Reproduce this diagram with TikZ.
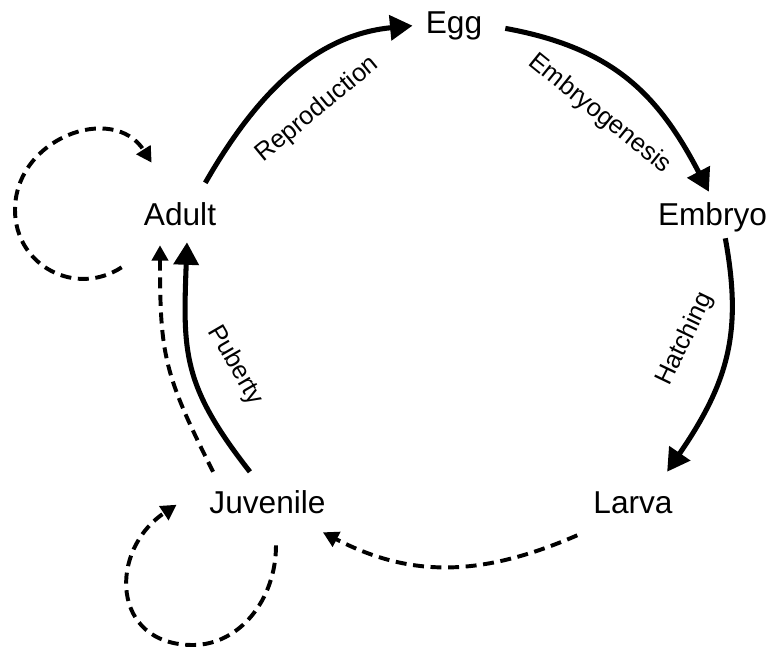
\documentclass[tikz,border=0pt]{standalone}
\usepackage{fontspec}
\setmainfont{Liberation Sans}
\usetikzlibrary{arrows.meta}
\tikzset{
    cycle diagram/.style = {x=0.025cm, y=0.025cm},
    stage/.style         = {font=\fontsize{22.5}{27}\selectfont, anchor=base,
                            inner sep=2pt, text height=16.5pt, text depth=4.7pt},
    phase/.style         = {font=\fontsize{18}{21}\selectfont, sloped,
                            inner sep=0pt, text height=12.9pt, text depth=3.8pt},
    develop/.style       = {line width=3.6pt,
                            -{Triangle[length=16pt, width=17.5pt]}},
    shortcut/.style      = {line width=2.8pt, dash pattern=on 7.8pt off 4.7pt,
                            -{Triangle[length=11pt, width=11.5pt]}}
}

\begin{document}
\begin{tikzpicture}[cycle diagram]
\useasboundingbox (0,0) rectangle (775,-654);

% ================= Life stages =================
\node[stage] (egg)      at (454,-33)   {Egg};
\node[stage] (embryo)   at (712.5,-225) {Embryo};
\node[stage] (larva)    at (633,-513)  {Larva};
\node[stage] (juvenile) at (267.5,-513) {Juvenile};
\node[stage] (adult)    at (180,-225)  {Adult};

% ================= Main cycle =================
\draw[develop, shorten <=13pt, shorten >=7.3pt]
    (adult.48) .. controls (255,-96) and (314,-35) ..
    node[phase, pos=.5, below=20pt] {Reproduction} (egg.west);
\draw[develop, shorten <=14.5pt, shorten >=5.6pt]
    (egg.east) .. controls (613,-48) and (658,-94) ..
    node[phase, pos=.5, below=20pt] {Embryogenesis} (embryo.north);
\draw[develop, shorten <=2.6pt, shorten >=12.9pt]
    (embryo.-56) .. controls (742,-330) and (730,-380) ..
    node[phase, pos=.48, above=20pt, rotate=-12] {Hatching} (larva.37);
\draw[shortcut, shorten <=22.5pt, shorten >=14.8pt]
    (larva.214) .. controls (481,-577) and (411,-578) .. (juvenile.-26);
\draw[develop, shorten <=13.5pt, shorten >=5.4pt]
    (juvenile.108) .. controls (181.8,-385) and (183,-352) ..
    node[phase, pos=.43, above=19pt, rotate=11] {Puberty} (adult.-68);
\draw[shortcut, shorten <=11.9pt, shorten >=7.5pt]
    (juvenile.159) .. controls (163.8,-373.7) and (160,-355) .. (adult.-138);

% ================= Self loops =================
\draw[shortcut]
    ([shift={(-19.2,-32.6)}]adult.south west) .. controls (75.4,-297.5) and (15,-265.5) ..
    (15,-210) .. controls (15,-138) and (113.3,-102.3) ..
    ([shift={(10.8,36)}]adult.north west);
\draw[shortcut]
    ([shift={(8.5,-22.6)}]juvenile.south) .. controls (276,-600) and (239,-645) ..
    (193,-645) .. controls (110.4,-645) and (108.4,-550) ..
    ([shift={(-29.7,0)}]juvenile.west);

\end{tikzpicture}
\end{document}
